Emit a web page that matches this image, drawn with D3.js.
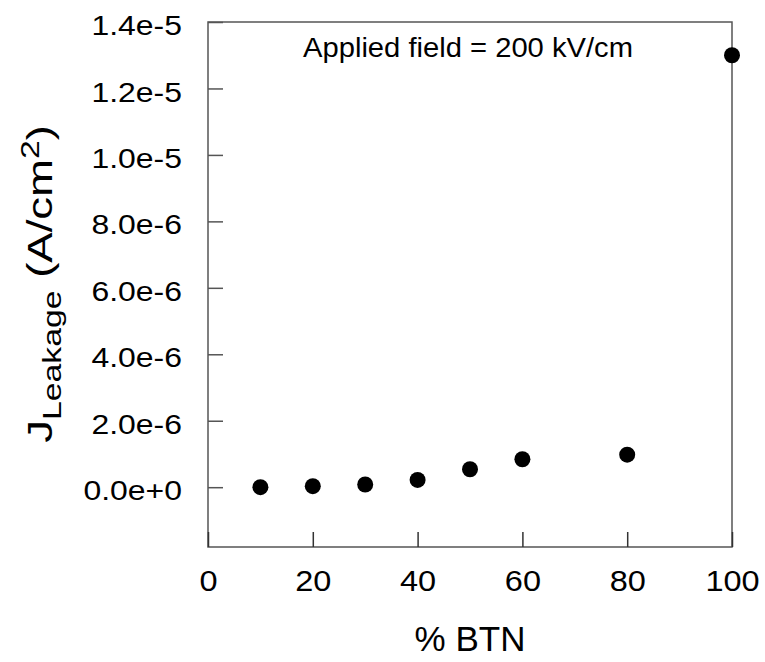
<!DOCTYPE html>
<html>
<head>
<meta charset="utf-8">
<script src="https://cdn.jsdelivr.net/npm/d3@7"></script>
<style>
  body { margin: 0; background: #fff; }
  text { font-family: "Liberation Sans", Arial, sans-serif; fill: #000; }
</style>
</head>
<body>
<div id="chart"></div>
<script>
// data
var btn = [10, 20, 30, 40, 50, 60, 80, 100];
var leakage = [0.0e-6, 0.03e-6, 0.08e-6, 0.22e-6, 0.54e-6, 0.84e-6, 0.98e-6, 13.0e-6];
var xTicks = [0, 20, 40, 60, 80, 100];
var yTicks = [0, 2e-6, 4e-6, 6e-6, 8e-6, 10e-6, 12e-6, 14e-6];

var w = 765;
var h = 662;
var plotLeft = 208, plotRight = 732, plotTop = 22, plotBottom = 547;

var xScale = d3.scaleLinear().domain([0, 100]).range([plotLeft, plotRight]);
var yScale = d3.scaleLinear().domain([-1.8e-6, 1.4e-5]).range([plotBottom, plotTop]);

var svg = d3.select("#chart")
  .append("svg")
  .attr("width", w)
  .attr("height", h);

// frame round the plot
svg.append("rect")
  .attr("x", plotLeft)
  .attr("y", plotTop)
  .attr("width", plotRight - plotLeft)
  .attr("height", plotBottom - plotTop)
  .attr("fill", "none")
  .attr("stroke", "#555")
  .attr("stroke-width", 1.5);

// stretch tick labels a bit wider, like the reference glyphs
function stretch(sel, k) {
  sel.each(function() {
    var t = d3.select(this);
    var len = this.getComputedTextLength();
    t.attr("textLength", len * k).attr("lengthAdjust", "spacingAndGlyphs");
  });
}

// x axis, ticks pointing inward
var xAxis = svg.append("g")
  .attr("transform", "translate(0," + plotBottom + ")")
  .call(d3.axisBottom(xScale).tickValues(xTicks).tickSizeInner(-15).tickSizeOuter(0).tickPadding(23));
xAxis.select(".domain").remove();
xAxis.selectAll("line").attr("stroke", "#333").attr("stroke-width", 1.5);
xAxis.selectAll("text")
  .style("font-size", "29px")
  .style("font-family", "'Liberation Sans', Arial, sans-serif")
  .attr("fill", "#000")
  .call(stretch, 1.12);

// y axis
var yAxis = svg.append("g")
  .attr("transform", "translate(" + plotLeft + ",0)")
  .call(d3.axisLeft(yScale).tickValues(yTicks).tickSizeInner(-15).tickSizeOuter(0).tickPadding(26)
    .tickFormat(d3.format(".1e")));
yAxis.select(".domain").remove();
yAxis.selectAll("line").attr("stroke", "#555").attr("stroke-width", 1.5);
yAxis.selectAll("text")
  .attr("dy", "0.45em")
  .style("font-size", "28px")
  .style("font-family", "'Liberation Sans', Arial, sans-serif")
  .attr("fill", "#000")
  .call(stretch, 1.14);

// points
svg.selectAll("circle")
  .data(btn)
  .enter()
  .append("circle")
  .attr("cx", function(d) { return xScale(d); })
  .attr("cy", function(d, i) { return yScale(leakage[i]); })
  .attr("r", 8)
  .attr("fill", "#000");

// annotation
svg.append("text")
  .attr("x", 303)
  .attr("y", 57)
  .attr("textLength", 330)
  .attr("lengthAdjust", "spacingAndGlyphs")
  .style("font-size", "27px")
  .text("Applied field = 200 kV/cm");

// x title
svg.append("text")
  .attr("x", 470)
  .attr("y", 651)
  .attr("text-anchor", "middle")
  .style("font-size", "35px")
  .text("% BTN");

// y title, stretched along its direction
var yt = svg.append("text")
  .attr("transform", "translate(52,284) rotate(-90) scale(1.3,1)")
  .attr("text-anchor", "middle")
  .style("font-size", "35px");
yt.append("tspan").text("J");
yt.append("tspan").attr("dy", 9).style("font-size", "26px").text("Leakage");
yt.append("tspan").attr("dy", -9).text(" (A/cm");
yt.append("tspan").attr("dy", -13).style("font-size", "26px").text("2");
yt.append("tspan").attr("dy", 13).text(")");
</script>
</body>
</html>
